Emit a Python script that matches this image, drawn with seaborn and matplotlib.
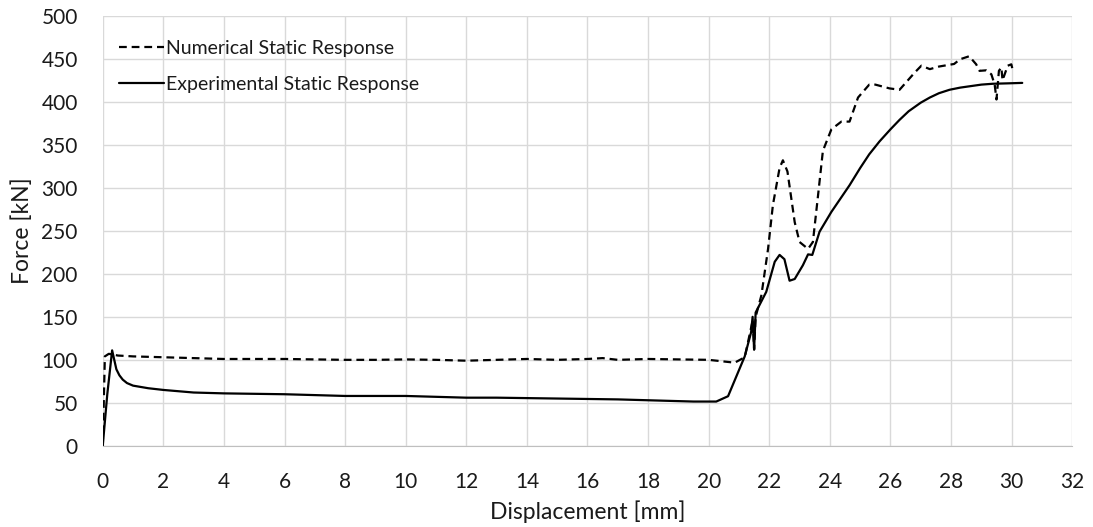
import pandas as pd
import seaborn as sns
import matplotlib.pyplot as plt

# Numerical static response (dashed)
disp_num = [0, 0.07, 0.2, 0.5, 1, 2, 3, 4, 5, 6, 7, 8, 9, 10, 11, 12, 13, 14, 15, 16,
            16.5, 17, 18, 19, 20, 20.86, 21.19, 21.46, 21.5, 21.55, 21.74, 21.96, 22.12,
            22.34, 22.45, 22.6, 22.84, 23.0, 23.28, 23.44, 23.6, 23.77, 24.05, 24.38,
            24.65, 24.93, 25.3, 25.5, 25.97, 26.3, 26.8, 27.02, 27.3, 27.6, 28.1, 28.3,
            28.6, 28.83, 28.94, 29.16, 29.33, 29.44, 29.5, 29.58, 29.66, 29.7, 29.87,
            29.99, 30.04]
force_num = [0, 104, 107, 105, 104, 103, 102, 101, 101, 101, 100.5, 100, 100, 100.5, 100,
             99, 100, 101, 100, 101, 102, 100, 101, 100.5, 100, 96.7, 103, 147, 112, 150,
             175, 229, 280, 323, 332, 319, 260, 237, 229, 237, 288, 343, 368, 377, 377,
             405, 420, 420, 415.6, 414, 434, 442, 438, 441, 444, 449.5, 453, 443.6, 436,
             436.6, 432, 420, 402.7, 436, 440, 425, 442, 443.6, 436]

# Experimental static response (solid)
disp_exp = [0, 0.15, 0.31, 0.38, 0.45, 0.55, 0.66, 0.8, 1.0, 1.5, 2, 3, 4, 5, 6, 7, 8, 9,
            10, 11, 12, 13, 14, 15, 16, 17, 18, 19, 19.5, 20.25, 20.64, 21.19, 21.4,
            21.45, 21.5, 21.55, 21.9, 22.18, 22.34, 22.5, 22.67, 22.84, 23.11, 23.28,
            23.42, 23.66, 24.05, 24.65, 25.0, 25.3, 25.64, 26.0, 26.3, 26.6, 27.0, 27.3,
            27.6, 27.95, 28.3, 28.6, 29.0, 29.38, 29.9, 30.35]
force_exp = [0, 60, 111, 100, 89, 82, 77, 73, 70, 67, 65, 62, 61, 60.5, 60, 59, 58, 58,
             58, 57, 56, 56, 55.5, 55, 54.5, 54, 53, 52, 51.5, 51.5, 57.7, 104, 132,
             150, 112, 155, 179, 214, 222, 217, 192, 194, 210, 222.6, 222, 249, 272, 303,
             323, 339, 354, 368, 379, 389, 399, 405, 410, 414, 416.5, 418, 420, 421, 421.5, 422]

sns.set_style('white')
plt.rcParams['font.family'] = ['Lato', 'DejaVu Sans']

fig = plt.figure(figsize=(10.93, 5.27), dpi=100)
ax = fig.add_axes([0.094, 0.154, 0.887, 0.816])

num = pd.DataFrame({'d': disp_num, 'f': force_num})
exp = pd.DataFrame({'d': disp_exp, 'f': force_exp})

sns.lineplot(data=num, x='d', y='f', sort=False, estimator=None, color='black',
             linewidth=1.6, label='Numerical Static Response', ax=ax)
sns.lineplot(data=exp, x='d', y='f', sort=False, estimator=None, color='black',
             linewidth=1.6, label='Experimental Static Response', ax=ax)
ax.lines[0].set_dashes((3.5, 2.2))

ax.set_xlim(0, 32)
ax.set_ylim(0, 500)
ax.set_xticks(range(0, 33, 2))
ax.set_yticks(range(0, 501, 50))
ax.grid(True, color='#d9d9d9', linewidth=1)
ax.tick_params(labelsize=15, length=0, labelcolor='#1a1a1a')
ax.tick_params(axis='x', pad=19)
ax.tick_params(axis='y', pad=18)
for s in ['top', 'right', 'left']:
    ax.spines[s].set_visible(False)
ax.spines['bottom'].set_color('#bfbfbf')
ax.set_xlabel('Displacement [mm]', fontsize=16.5, color='#1a1a1a', labelpad=6)
ax.set_ylabel('Force [kN]', fontsize=16.5, color='#1a1a1a', labelpad=6)

leg = ax.legend(loc='upper left', frameon=False, fontsize=14, handlelength=2.3,
                handletextpad=0.1, labelspacing=0.95, borderaxespad=0.3,
                bbox_to_anchor=(0.003, 0.975))
for t in leg.get_texts():
    t.set_color('#1a1a1a')
leg.get_lines()[0].set_dashes((3.5, 2.2))

plt.savefig('out.png')
plt.close()
